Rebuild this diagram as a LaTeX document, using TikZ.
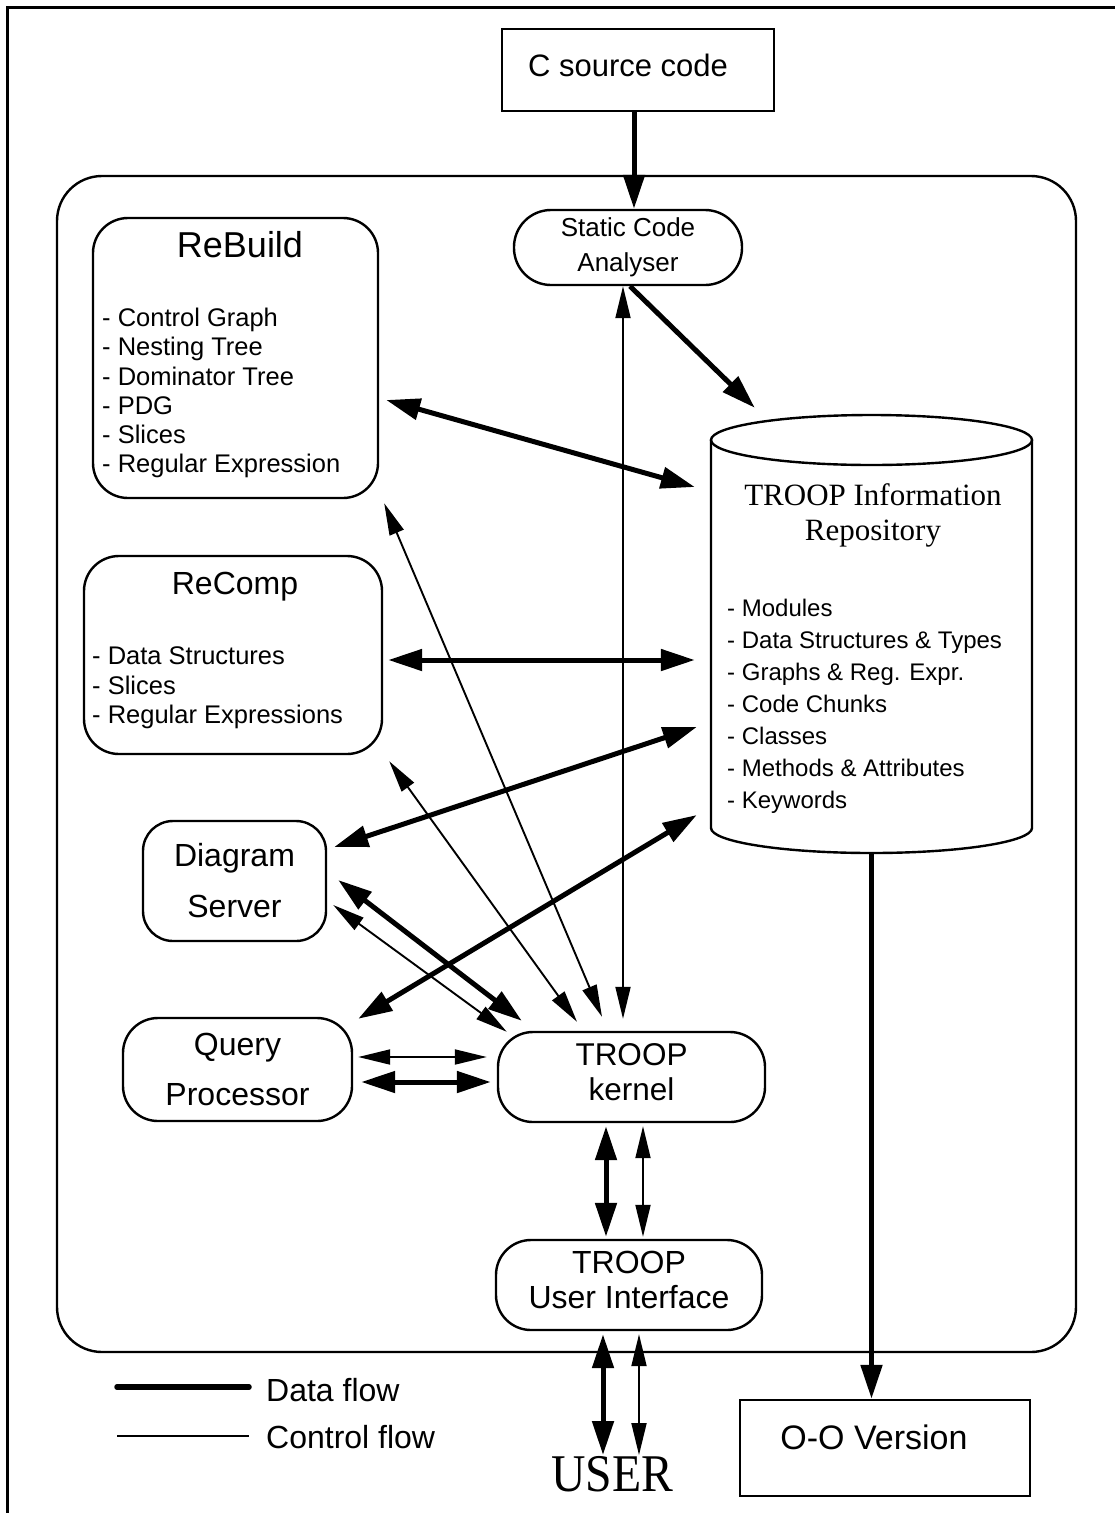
\documentclass[tikz,border=0pt]{standalone}
\usepackage{fontspec}
\setmainfont{Liberation Sans}
\newfontfamily\seriffont{Liberation Serif}
\usetikzlibrary{arrows.meta,calc}
\tikzset{
  box/.style={draw, line width=2.4pt, rounded corners=#1, inner sep=0pt},
  box/.default=35pt,
  sqbox/.style={draw, line width=2.4pt, inner sep=0pt},
  dtip/.tip={Triangle[length=34pt,width=21pt]},
  ctip/.tip={Triangle[length=32pt,width=15pt]},
  dflow/.style={line width=5pt, -dtip},
  dflowb/.style={line width=5pt, dtip-dtip},
  cflowb/.style={line width=1.9pt, ctip-ctip},
}
\begin{document}
\begin{tikzpicture}[x=1pt,y=-1pt]
\useasboundingbox (0,0) rectangle (1115,1513);
% page frame (top and left)
\draw[line width=3pt] (7,1513) -- (7,7) -- (1115,7);

% outer system box
\node[box=45pt, minimum width=1019pt, minimum height=1176pt] (outer) at (566.5,764) {};

% C source code
\node[sqbox, minimum width=272pt, minimum height=82pt] (csrc) at (638,70) {};
\node[font=\fontsize{31}{36}\selectfont] (csrctxt) at (628,65) {C source code};

% Static code analyser
\node[box=37pt, minimum width=228pt, minimum height=75pt, align=center,
      font=\fontsize{26}{35}\selectfont] (static) at (628,247.5) {Static Code\\Analyser};

% ReBuild
\node[box, minimum width=285pt, minimum height=280pt] (rebuild) at (235.5,358) {};
\node[font=\fontsize{36}{40}\selectfont] (rebuildtitle) at (240,245) {ReBuild};
\node[font=\fontsize{25.5}{29.2}\selectfont, align=left, anchor=west, inner sep=0pt] (rebuilditems) at (102,393)
  {- Control Graph\\- Nesting Tree\\- Dominator Tree\\- PDG\\- Slices\\- Regular Expression};

% ReComp
\node[box, minimum width=298pt, minimum height=198pt] (recomp) at (233,655) {};
\node[font=\fontsize{32}{36}\selectfont] (recomptitle) at (235,587) {ReComp};
\node[font=\fontsize{25.5}{29.5}\selectfont, align=left, anchor=west, inner sep=0pt] (recompitems) at (92,688)
  {- Data Structures\\- Slices\\- Regular Expressions};

% Repository (cylinder)
\node[minimum width=321pt, minimum height=438pt, inner sep=0pt] (repo) at (871.5,634) {};
\draw[line width=2.4pt] (871.5,440) ellipse [x radius=160.5pt, y radius=25pt];
\draw[line width=2.4pt] (711,440) -- (711,828)
  arc [start angle=180, end angle=360, x radius=160.5pt, y radius=25pt] -- (1032,440);
\node[font=\seriffont\fontsize{31}{35}\selectfont, align=center, inner sep=0pt] (repotitle) at (873,515)
  {TROOP Information\\Repository};
\node[font=\fontsize{24}{32}\selectfont, align=left, anchor=west, inner sep=0pt] (repoitems) at (727,706)
  {- Modules\\- Data Structures \& Types\\- Graphs \& Reg. Expr.\\- Code Chunks\\- Classes\\- Methods \& Attributes\\- Keywords};

% Diagram server
\node[box=30pt, minimum width=183pt, minimum height=120pt, align=center,
      font=\fontsize{32}{51}\selectfont] (diagram) at (234.5,881) {Diagram\\Server};

% Query processor
\node[box, minimum width=229pt, minimum height=103pt, align=center,
      font=\fontsize{32}{50}\selectfont] (query) at (237.5,1069.5) {Query\\Processor};

% TROOP kernel
\node[box, minimum width=267pt, minimum height=90pt, align=center,
      font=\fontsize{31.5}{35}\selectfont] (kernel) at (631.5,1077) {TROOP\\kernel\strut};

% TROOP user interface
\node[box, minimum width=266pt, minimum height=90pt, align=center,
      font=\fontsize{32}{35}\selectfont] (ui) at (629,1285) {TROOP\\User Interface\strut};

% O-O version
\node[sqbox, minimum width=290pt, minimum height=96pt] (oo) at (885,1448) {};
\node[font=\fontsize{34}{38}\selectfont] (ootxt) at (874,1437) {O-O Version};

% USER
\node[font=\seriffont\fontsize{53}{56}\selectfont, inner sep=0pt] (user) at (612,1474) {\scalebox{0.9}[1]{USER}};

% Legend
\coordinate (lda) at (117,1387);
\coordinate (ldb) at (249,1387);
\coordinate (lca) at (117,1436);
\coordinate (lcb) at (249,1436);
\draw[line width=5.5pt, line cap=round] (lda) -- (ldb);
\draw[line width=1.9pt] (lca) -- (lcb);
\node[font=\fontsize{32}{36}\selectfont, anchor=west, inner sep=0pt] (ldtxt) at (266,1390) {Data flow};
\node[font=\fontsize{32}{36}\selectfont, anchor=west, inner sep=0pt] (lctxt) at (266,1437) {Control flow};

% ---- connectors ----
% data flow
\draw[dflow] ($(csrc.south)+(-4,0)$) -- ($(static.north)+(6,0)$);
\draw[dflow] ($(static.south)+(2,0)$) -- ($(repo.north west)+(44,-7)$);
\draw[dflowb] ($(rebuild.east)+(7,42)$) -- ($(repo.west)+(-16,-147)$);
\draw[dflowb] ($(recomp.east)+(5,5)$) -- ($(repo.west)+(-16,26)$);
\draw[dflowb] ($(diagram.east)+(7,-34)$) -- ($(repo.west)+(-14,93)$);
\draw[dflowb] ($(query.north east)+(5,2)$) -- ($(repo.west)+(-14,181)$);
\draw[dflowb] ($(diagram.east)+(11,-1)$) -- ($(kernel.north west)+(25,-10)$);
\draw[dflowb] ($(query.east)+(8,12.5)$) -- ($(kernel.west)+(-6,5)$);
\draw[dflowb] ($(kernel.south)+(-25.5,3)$) -- ($(ui.north)+(-23,-2)$);
\draw[dflowb] ($(ui.south)+(-26,3)$) -- ($(user.north)+(-9,-1)$);
\draw[dflow] (repo.south) -- (repo.south |- oo.north);
% control flow
\draw[cflowb] ($(static.south)+(-5,0)$) -- ($(kernel.north)+(-8.5,-12)$);
\draw[cflowb] ($(rebuild.south east)+(5,4)$) -- ($(kernel.north)+(-29.5,-14)$);
\draw[cflowb] ($(recomp.south east)+(6,6)$) -- ($(kernel.north)+(-54.5,-9)$);
\draw[cflowb] ($(diagram.east)+(6,24)$) -- ($(kernel.north west)+(10,1)$);
\draw[cflowb] ($(query.east)+(5,-12.5)$) -- ($(kernel.west)+(-10,-20)$);
\draw[cflowb] ($(kernel.south)+(11.5,3)$) -- ($(ui.north)+(14,-2)$);
\draw[cflowb] ($(ui.south)+(10,3)$) -- ($(user.north)+(27,-1)$);
\end{tikzpicture}
\end{document}
